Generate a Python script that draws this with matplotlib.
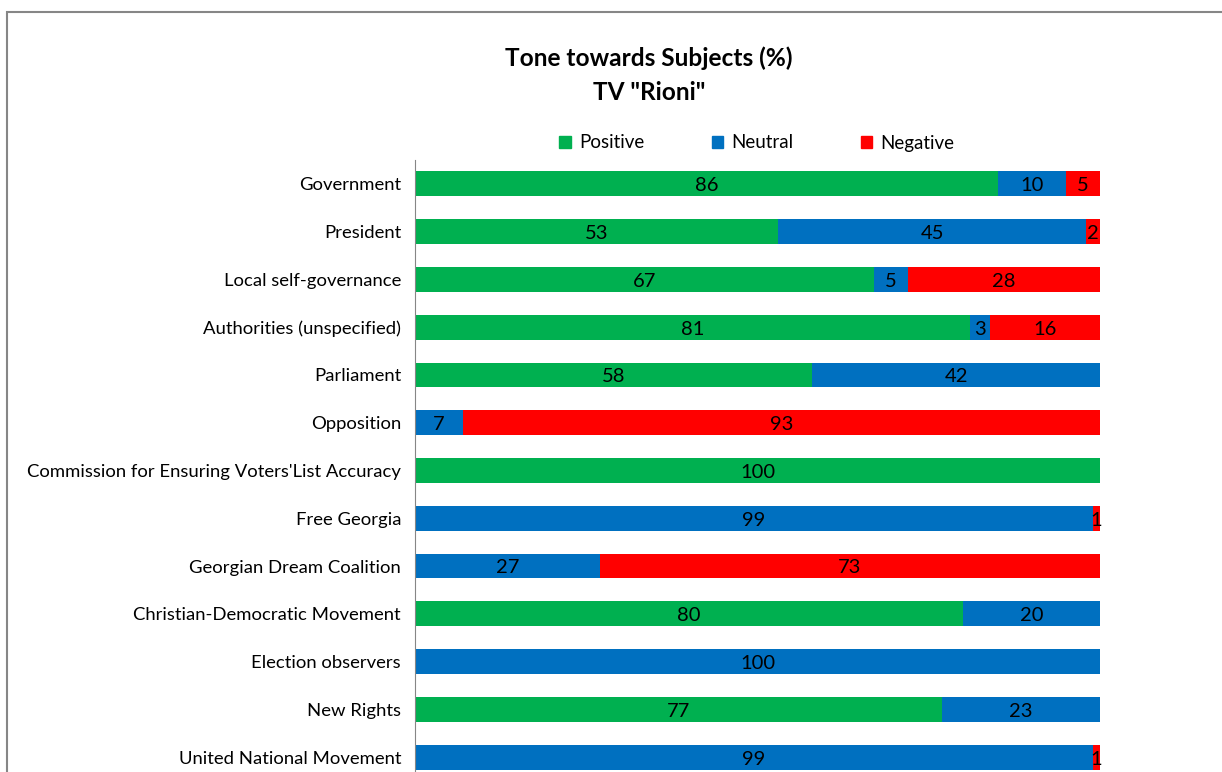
import matplotlib.pyplot as plt
from matplotlib.patches import Patch, Rectangle
import numpy as np

# data
subjects = ["Government", "President", "Local self-governance", "Authorities (unspecified)",
            "Parliament", "Opposition", "Commission for Ensuring Voters'List Accuracy",
            "Free Georgia", "Georgian Dream Coalition", "Christian-Democratic Movement",
            "Election observers", "New Rights", "United National Movement"]
positive = [86, 53, 67, 81, 58, 0, 100, 0, 0, 80, 0, 77, 0]
neutral = [10, 45, 5, 3, 42, 7, 0, 99, 27, 20, 100, 23, 99]
negative = [5, 2, 28, 16, 0, 93, 0, 1, 73, 0, 0, 0, 1]
series_names = ["Positive", "Neutral", "Negative"]
colors = ["#00B050", "#0070C0", "#FF0000"]

plt.rcParams['font.family'] = ['Lato', 'DejaVu Sans']

fig = plt.figure(figsize=(12.22, 7.72), dpi=100)
W, H = 1222, 772
ax = fig.add_axes([415 / W, 1 - 781 / H, 685 / W, 621 / H])

# chart border
fig.patches.append(Rectangle((7 / W, -0.1), 1.2, 1 - 12 / H + 0.1, transform=fig.transFigure,
                             fill=False, edgecolor="#868686", linewidth=1.5))

y = np.arange(len(subjects))
data = np.array([positive, neutral, negative], dtype=float)
totals = data.sum(axis=0)
left = np.zeros(len(subjects))
for i, name in enumerate(series_names):
    widths = data[i] / totals * 100
    ax.barh(y, widths, left=left, height=0.52, color=colors[i], label=name)
    for j in range(len(subjects)):
        if data[i][j] > 0:
            ax.text(left[j] + widths[j] / 2, y[j] + 0.04, "%d" % data[i][j],
                    ha="center", va="center", fontsize=14.5, color="black")
    left += widths

ax.set_xlim(0, 100)
ax.set_ylim(12.5, -0.5)
ax.set_yticks(y)
ax.set_yticklabels(subjects, fontsize=13.3)
ax.tick_params(axis="y", length=0, pad=10)
ax.set_xticks([])
for s in ["top", "right", "bottom"]:
    ax.spines[s].set_visible(False)
ax.spines["left"].set_color("#868686")

fig.text(649 / W, 1 - 58 / H, "Tone towards Subjects (%)", ha="center", va="center",
         fontsize=17.6, fontweight="bold")
fig.text(649 / W, 1 - 92 / H, 'TV "Rioni"', ha="center", va="center",
         fontsize=17.6, fontweight="bold")

handles = [Patch(color=c) for c in colors]
fig.legend(handles, series_names, loc="center", bbox_to_anchor=(757 / W, 1 - 143 / H),
           ncol=3, frameon=False, fontsize=13.5, handlelength=0.6, handleheight=0.6,
           columnspacing=3.6, handletextpad=0.45)

fig.savefig("out.png", dpi=100)
